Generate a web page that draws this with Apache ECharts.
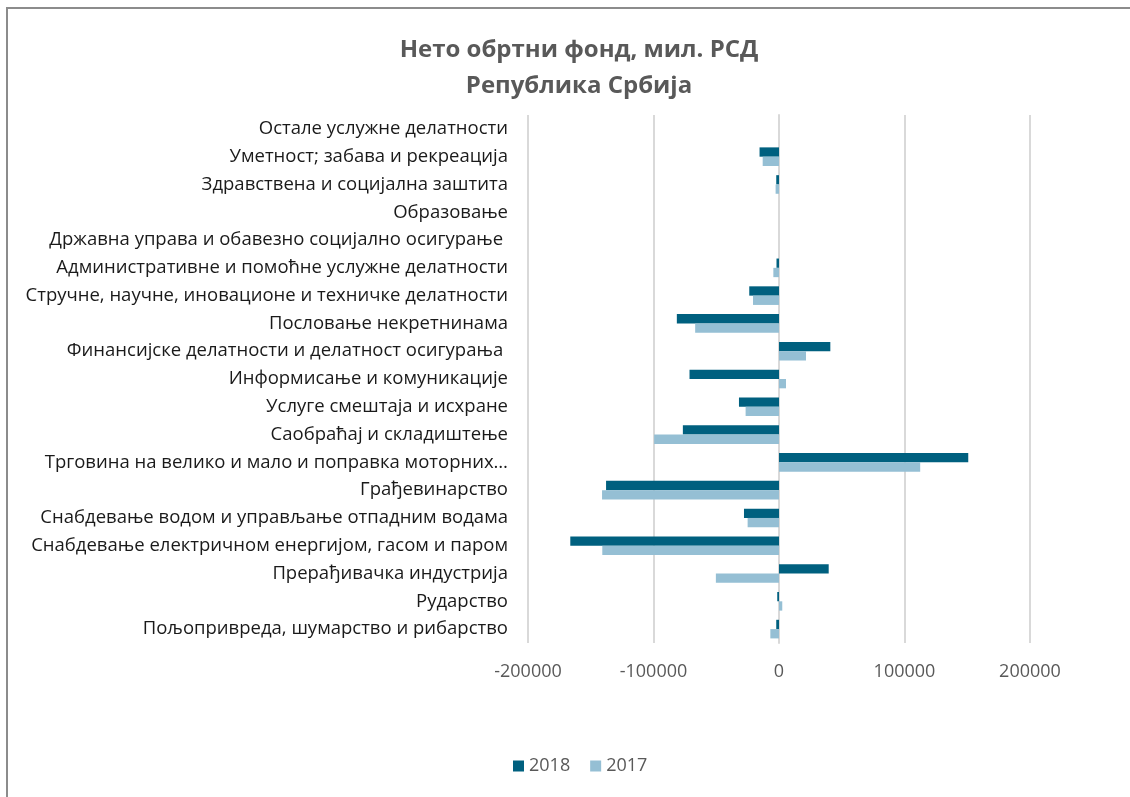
<!DOCTYPE html>
<html>
<head>
<meta charset="utf-8">
<script src="https://cdn.jsdelivr.net/npm/echarts@6/dist/echarts.min.js"></script>
<style>
html,body{margin:0;padding:0;background:#fff;}
#c{width:1130px;height:797px;}
</style>
</head>
<body>
<div id="c"></div>
<script>
// Categories, bottom to top
const categories = [
  "Пољопривреда, шумарство и рибарство",
  "Рударство",
  "Прерађивачка индустрија",
  "Снабдевање електричном енергијом, гасом и паром",
  "Снабдевање водом и управљање отпадним водама",
  "Грађевинарство",
  "Трговина на велико и мало и поправка моторних…",
  "Саобраћај и складиштење",
  "Услуге смештаја и исхране",
  "Информисање и комуникације",
  "Финансијске делатности и делатност осигурања ",
  "Пословање некретнинама",
  "Стручне, научне, иновационе и техничке делатности",
  "Административне и помоћне услужне делатности",
  "Државна управа и обавезно социјално осигурање ",
  "Образовање",
  "Здравствена и социјална заштита",
  "Уметност; забава и рекреација",
  "Остале услужне делатности"
];
const values2018 = [-2200, -1400, 39600, -166300, -27900, -137800, 150800, -76600, -31900, -71300, 40900, -81400, -23700, -2000, 0, 0, -2200, -15500, 0];
const values2017 = [-6900, 2600, -50300, -140800, -25000, -141000, 112500, -99500, -26600, 5600, 21500, -66800, -20700, -4500, 0, 0, -2700, -13000, 0];
const seriesNames = ["2018", "2017"];
const xTicks = [-200000, -100000, 0, 100000, 200000];

const chart = echarts.init(document.getElementById('c'), null, {renderer: 'canvas'});
const FONT = '"Open Sans", "Noto Sans", sans-serif';
chart.setOption({
  backgroundColor: '#fff',
  animation: false,
  title: {
    text: 'Нето обртни фонд, мил. РСД\nРепублика Србија',
    left: 574, top: 27, textAlign: 'center',
    textStyle: {fontFamily: FONT, fontSize: 24, fontWeight: 'bold', color: '#595959', lineHeight: 36}
  },
  legend: {
    data: seriesNames,
    bottom: 17, left: 508,
    itemWidth: 11, itemHeight: 11, itemGap: 20,
    icon: 'rect',
    textStyle: {fontFamily: FONT, fontSize: 18, color: '#595959'}
  },
  grid: {left: 528, right: 100, top: 115, bottom: 154, containLabel: false},
  xAxis: {
    type: 'value',
    min: xTicks[0], max: xTicks[xTicks.length - 1], interval: 100000,
    axisLine: {show: false}, axisTick: {show: false},
    splitLine: {lineStyle: {color: '#d9d9d9', width: 2}},
    axisLabel: {fontFamily: FONT, fontSize: 18, color: '#595959', margin: 20,
      formatter: function (v) { return String(v); }}
  },
  yAxis: {
    type: 'category',
    data: categories,
    axisLine: {show: true, onZero: true, lineStyle: {color: '#d9d9d9', width: 2}},
    axisTick: {show: false},
    axisLabel: {fontFamily: FONT, fontSize: 18.5, color: '#1a1a1a', margin: 20, interval: 0}
  },
  series: [
    {name: seriesNames[0], type: 'bar', data: values2018, barGap: '0%', barCategoryGap: '33%',
     itemStyle: {color: '#00607f'}},
    {name: seriesNames[1], type: 'bar', data: values2017, barGap: '0%', barCategoryGap: '33%',
     itemStyle: {color: '#95bfd4'}}
  ],
  graphic: [{
    type: 'rect', shape: {x: 7, y: 8, width: 1200, height: 900},
    style: {fill: 'none', stroke: '#8c8c8c', lineWidth: 2}, silent: true, z: 100
  }]
});
</script>
</body>
</html>
